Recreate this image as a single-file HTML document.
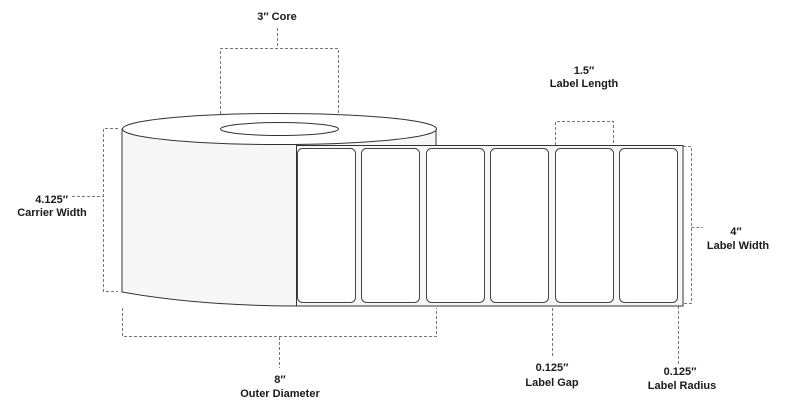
<!DOCTYPE html>
<html><head><style>
html,body{margin:0;padding:0;background:#fff;}
svg text{font-family:"Liberation Sans",sans-serif;font-weight:bold;font-size:11px;fill:#1a1a1a;text-anchor:middle;}
</style></head><body>
<svg width="786" height="408" viewBox="0 0 786 408" xmlns="http://www.w3.org/2000/svg">
<g fill="none" stroke="#777" stroke-width="1" stroke-dasharray="3,2">
<!-- core -->
<path d="M277.5 28V48M220.5 129V48.5H338.5V129"/>
<!-- carrier width -->
<path d="M118 128.5H103.5V291.5H118M72 196.5H103"/>
<!-- outer diameter -->
<path d="M122.5 308V336.5H436.5V308M279.5 337V368"/>
<!-- label length -->
<path d="M555.5 145V121.5H613.5V145"/>
<!-- label width -->
<path d="M683 146.5H691.5V303.5H683M691.5 227.5H703"/>
<!-- label gap -->
<path d="M552.5 308V356"/>
<!-- label radius -->
<path d="M678.5 306V366"/>
</g>
<!-- cylinder -->
<path d="M122 129 V292 Q200 306 300 306 H436 V129 Z" fill="#f7f7f7" stroke="#333" stroke-width="1"/>
<!-- strip -->
<rect x="296.5" y="145.5" width="386.5" height="160.5" fill="#f7f7f7" stroke="#333" stroke-width="1"/>
<g fill="#fff" stroke="#444" stroke-width="1">
<rect x="297.5" y="148.5" width="58" height="154" rx="5"/>
<rect x="361.5" y="148.5" width="58" height="154" rx="5"/>
<rect x="426.5" y="148.5" width="58" height="154" rx="5"/>
<rect x="490.5" y="148.5" width="58" height="154" rx="5"/>
<rect x="555.5" y="148.5" width="58" height="154" rx="5"/>
<rect x="619.5" y="148.5" width="58" height="154" rx="5"/>
</g>
<!-- top ellipse -->
<ellipse cx="279.5" cy="129" rx="157" ry="15.5" fill="#fff" stroke="#333" stroke-width="1"/>
<ellipse cx="279.5" cy="129" rx="59" ry="6.5" fill="#fff" stroke="#333" stroke-width="1"/>
<text x="277" y="20">3″ Core</text>
<text x="584" y="74">1.5″</text>
<text x="584" y="87">Label Length</text>
<text x="52" y="203" style="text-anchor:end" transform="translate(16,0)">4.125″</text>
<text x="52" y="216">Carrier Width</text>
<text x="736" y="235">4″</text>
<text x="738" y="249">Label Width</text>
<text x="280" y="383">8″</text>
<text x="280" y="397">Outer Diameter</text>
<text x="552" y="371">0.125″</text>
<text x="552" y="386">Label Gap</text>
<text x="680" y="375">0.125″</text>
<text x="682" y="389">Label Radius</text>
</svg>
</body></html>
